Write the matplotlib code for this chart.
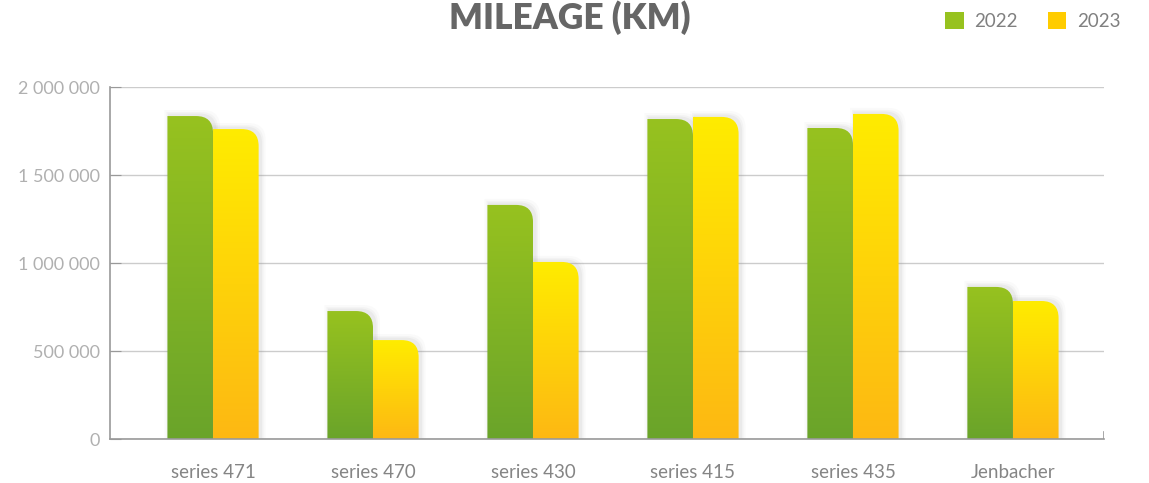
import numpy as np
import matplotlib
matplotlib.use("Agg")
import matplotlib.pyplot as plt
from matplotlib.path import Path
from matplotlib.patches import PathPatch, Patch
from matplotlib.colors import to_rgb
from matplotlib.ticker import FuncFormatter

categories = ["series 471", "series 470", "series 430", "series 415", "series 435", "Jenbacher"]
mileage_2022 = [1835000, 727000, 1330000, 1818000, 1767000, 864000]
mileage_2023 = [1761000, 562000, 1006000, 1830000, 1847000, 784000]
years = ["2022", "2023"]

green_top, green_bot = "#97c21f", "#6aa42a"
yellow_top, yellow_bot = "#ffec00", "#fdb813"

plt.rcParams["font.family"] = ["Lato", "DejaVu Sans"]

fig = plt.figure(figsize=(11.49, 4.83), dpi=100)
ax = fig.add_axes([110/1149, 44/483, 994/1149, 352/483])

x = np.arange(len(categories))
w = 0.285
xlim = (-0.644, 5.569)
ylim = (0, 2000000)

# px -> data units for the rounded corner
px_x = (xlim[1] - xlim[0]) / 994
px_y = (ylim[1] - ylim[0]) / 352
r = 17


def rounded_path(x0, x1, h, dx=0, dy=0, grow=0):
    rx = r * px_x
    ry = r * px_y
    x0 = x0 + dx - grow * px_x
    x1 = x1 + dx + grow * px_x
    h = h + dy + grow * px_y
    verts = [(x0, 0), (x0, h), (x1 - rx, h), (x1, h), (x1, h - ry), (x1, 0), (x0, 0)]
    codes = [Path.MOVETO, Path.LINETO, Path.LINETO, Path.CURVE3, Path.CURVE3, Path.LINETO, Path.CLOSEPOLY]
    return Path(verts, codes)


def gradient(c_top, c_bot):
    t = np.linspace(0, 1, 256)[:, None]
    a = np.array(to_rgb(c_top))
    b = np.array(to_rgb(c_bot))
    return (a + (b - a) * t)[:, None, :].reshape(256, 1, 3)


ax.set_axisbelow(True)
ax.yaxis.grid(True, color="#cccccc", linewidth=1)

series = [(mileage_2022, -w / 2, green_top, green_bot, 3),
          (mileage_2023, w / 2, yellow_top, yellow_bot, 4)]
for vals, off, ct, cb, z in series:
    bars = ax.bar(x + off, vals, w, alpha=0)
    for b in bars:
        x0 = b.get_x()
        x1 = x0 + b.get_width()
        h = b.get_height()
        # soft shadow
        for g, a in [(5, 0.04), (3, 0.05), (1.5, 0.07)]:
            sp = PathPatch(rounded_path(x0, x1, h, dx=2 * px_x, dy=1 * px_y, grow=g),
                           facecolor="#808080", edgecolor="none", alpha=a, zorder=z - 0.5)
            ax.add_patch(sp)
        patch = PathPatch(rounded_path(x0, x1, h), facecolor="none", edgecolor="none", zorder=z)
        ax.add_patch(patch)
        im = ax.imshow(gradient(ct, cb), extent=[x0, x1, 0, h], aspect="auto",
                       origin="upper", zorder=z, interpolation="bilinear")
        im.set_clip_path(patch)

ax.set_xlim(*xlim)
ax.set_ylim(*ylim)
ax.set_yticks(np.arange(0, 2000001, 500000))
ax.yaxis.set_major_formatter(FuncFormatter(lambda v, p: f"{int(v):,}".replace(",", " ")))
ax.set_xticks(x)
ax.set_xticklabels(categories)

for s in ["top", "right"]:
    ax.spines[s].set_visible(False)
for s in ["left", "bottom"]:
    ax.spines[s].set_color("#999999")
    ax.spines[s].set_linewidth(1.2)
    ax.spines[s].set_zorder(6)

ax.tick_params(axis="y", direction="in", length=8, color="#999999", labelsize=13,
               labelcolor="#b0b0b0", pad=7)
ax.tick_params(axis="x", length=0, labelsize=13.5, labelcolor="#858585", pad=18)
ax.axvline(xlim[1], ymin=0, ymax=0.02, color="#999999", linewidth=1.2, zorder=6)

fig.text(570 / 1149, 1 - 18 / 483, "MILEAGE (KM)", ha="center", va="center",
         fontsize=25.5, fontweight="heavy", color="#666666")

handles = [Patch(facecolor=green_top, edgecolor="none"), Patch(facecolor="#ffcc00", edgecolor="none")]
fig.legend(handles, years, loc="upper right", bbox_to_anchor=(1137 / 1149, 1.01), ncol=2,
           frameon=False, fontsize=13.5, handlelength=1.0, handleheight=1.0,
           handletextpad=0.55, columnspacing=1.6, labelcolor="#808080")

fig.savefig("out.png", dpi=100)
